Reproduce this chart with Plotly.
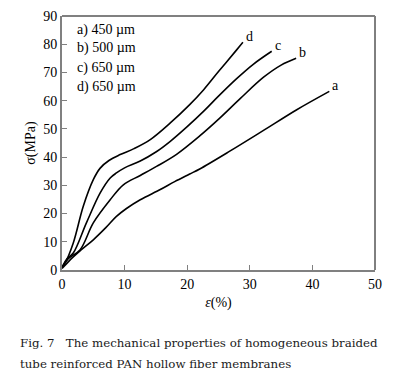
import plotly.graph_objects as go

a_x = [0, 1.3, 3, 5, 7, 8.7, 10.3, 12.5, 15.7, 18, 20.4, 22, 26.8, 32, 37.5, 42.7]
a_y = [0.5, 3.6, 7, 10.7, 15, 19, 21.8, 24.9, 28.5, 31.3, 34, 35.8, 42.1, 49.2, 56.8, 63.3]
b_x = [0, 1, 2.9, 5, 7.7, 9.8, 12.5, 15.1, 18.3, 22, 25.2, 28.5, 32.2, 35, 37.4]
b_y = [1, 4, 7.2, 16.7, 24.9, 30.2, 33.5, 36.7, 41, 47.5, 53.8, 60.8, 68.3, 72.6, 75]
c_x = [0, 0.8, 1.8, 3.9, 6.1, 7.7, 8.7, 10, 12.5, 15, 17.3, 20, 22.6, 25, 27.9, 30.5, 33.5]
c_y = [1, 4, 6, 16.7, 27.3, 32.6, 34.4, 36.2, 38.6, 41.8, 45.6, 50.8, 56.2, 61.6, 67.8, 72.8, 77.5]
d_x = [0, 0.5, 1.8, 3.4, 5, 6.1, 7.5, 9.3, 11.5, 14.1, 17.3, 20.4, 22.6, 25, 27.9, 28.9]
d_y = [1, 2.5, 9.6, 22.6, 32, 36.1, 38.8, 40.9, 43, 46.2, 52.1, 58.6, 63.8, 70.3, 78, 80.7]

curve_labels = ["a", "b", "c", "d"]
legend_lines = ["a) 450 µm", "b) 500 µm", "c) 650 µm", "d) 650 µm"]
x_ticks = [0, 10, 20, 30, 40, 50]
y_ticks = [0, 10, 20, 30, 40, 50, 60, 70, 80, 90]

FONT = "Liberation Serif, Times New Roman, serif"
CAP_FONT = "DejaVu Serif, serif"

fig = go.Figure()
series = [(a_x, a_y), (b_x, b_y), (c_x, c_y), (d_x, d_y)]
for (xs, ys), lab in zip(series, curve_labels):
    fig.add_trace(go.Scatter(x=xs, y=ys, mode="lines",
                             line=dict(color="black", width=1.6, shape="spline", smoothing=1.0),
                             showlegend=False, hoverinfo="skip"))
    fig.add_annotation(x=xs[-1], y=ys[-1], text=lab, showarrow=False, xanchor="left", yanchor="bottom",
                       xshift=1, yshift=-4, font=dict(family=FONT, size=14, color="black"))

legend_y = [85, 78.6, 71.7, 65]
for t, yy in zip(legend_lines, legend_y):
    fig.add_annotation(x=2.1, y=yy, text=t, showarrow=False, xanchor="left", yanchor="middle",
                       font=dict(family=FONT, size=14, color="black"))

# caption
fig.add_annotation(xref="paper", yref="paper", x=-0.14, y=-0.287, xanchor="left", yanchor="middle",
                   text="Fig. 7&nbsp;&nbsp;&nbsp;The mechanical properties of homogeneous braided",
                   showarrow=False, font=dict(family=CAP_FONT, size=11.8, color="#1a1a1a"))
fig.add_annotation(xref="paper", yref="paper", x=-0.14, y=-0.370, xanchor="left", yanchor="middle",
                   text="tube reinforced PAN hollow fiber membranes",
                   showarrow=False, font=dict(family=CAP_FONT, size=11.8, color="#1a1a1a"))

# frame: right thin black, top grey
fig.add_shape(type="line", xref="paper", yref="paper", x0=1, x1=1, y0=0, y1=1, line=dict(color="black", width=1))
fig.add_shape(type="line", xref="paper", yref="paper", x0=0, x1=1, y0=1, y1=1, line=dict(color="#808080", width=2))

fig.update_layout(
    width=400, height=383,
    margin=dict(l=54, r=33, t=8, b=121),
    paper_bgcolor="white", plot_bgcolor="white",
    font=dict(family=FONT, size=14, color="black"),
    xaxis=dict(range=[0, 50], tickvals=x_ticks, ticks="inside", ticklen=5, tickcolor="#808080",
               showline=True, linecolor="#808080", linewidth=2, showgrid=False, zeroline=False,
               automargin=False, ticklabeloverflow="allow",
               title=dict(text="<i>ε</i>(%)", standoff=6, font=dict(size=14)),
               tickfont=dict(size=14)),
    yaxis=dict(range=[0, 90], tickvals=y_ticks, ticks="inside", ticklen=5, tickcolor="#808080",
               showline=True, linecolor="#808080", linewidth=2, showgrid=False, zeroline=False,
               automargin=False, ticklabeloverflow="allow",
               title=dict(text="σ(MPa)", standoff=4, font=dict(size=14)),
               tickfont=dict(size=14)),
)

fig.write_html("out.html")
